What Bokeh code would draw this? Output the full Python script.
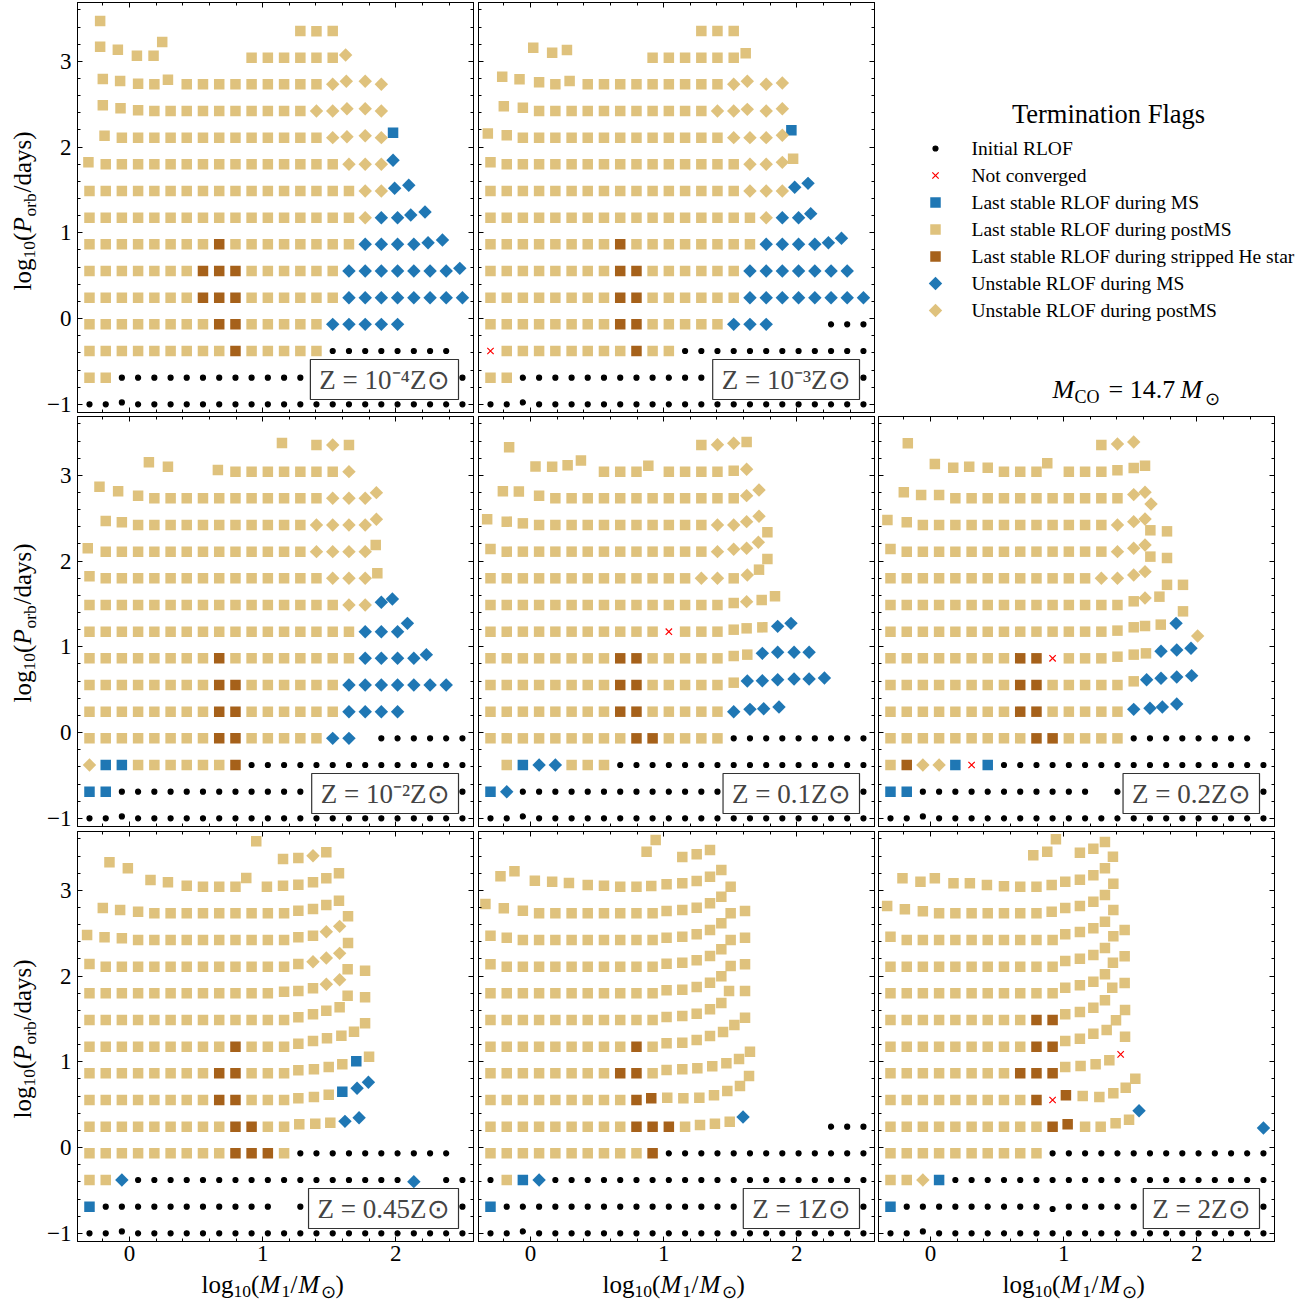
import numpy as np
from bokeh.plotting import figure
from bokeh.layouts import row, column
from bokeh.models import Range1d, LinearAxis, FixedTicker, Label
from bokeh.embed import file_html
from bokeh.resources import INLINE

# ---------------------------------------------------------------------------
# Grid of initial binaries: log10(M1/Msun) columns and log10(P/days) rows
# ---------------------------------------------------------------------------
log_m1_grid = [-0.300, -0.178, -0.057, 0.065, 0.187, 0.309, 0.430, 0.552,
               0.674, 0.796, 0.917, 1.039, 1.161, 1.283, 1.404, 1.526,
               1.648, 1.770, 1.891, 2.013, 2.135, 2.257, 2.378, 2.500]
log_p_grid = [-1.000, -0.689, -0.378, -0.067, 0.244, 0.555, 0.866, 1.177,
              1.488, 1.799, 2.110, 2.421, 2.732, 3.043, 3.354]

# Termination flag per grid node, one run-length string per period row
# (top row first).  Codes: "." initial RLOF, "x" not converged,
# "b" stable RLOF during MS, "s" stable during postMS, "h" stable during
# stripped He star, "D" unstable during MS, "d" unstable during postMS,
# "-" no model.
flags_z1em4 = ["s1 -12 s3 -8", "s5 -5 s6 d1 -7", "-1 s14 d4 -5", "-1 s13 d5 -5",
               "-1 s14 d4 b1 -4", "s16 d3 D1 -4", "s17 d2 D2 -3", "s17 d1 D4 -2",
               "s8 h1 s8 D6 -1", "s7 h3 s6 D8", "s7 h3 s6 D8", "s8 h2 s5 D5 -4",
               "s9 h1 s5 .8 -1", "s2 .22", ".24"]
flags_z1em3 = ["-13 s3 -8", "-2 s3 -5 s7 -7", "-1 s14 d4 -5", "-1 s13 d5 -5",
               "s15 d4 b1 -4", "s16 d3 s1 -4", "s16 d3 D2 -3", "s17 d1 D3 -3",
               "s8 h1 s8 D6 -1", "s8 h2 s6 D7 -1", "s8 h2 s6 D8", "s8 h2 s5 D3 -3 .3",
               "x1 s8 h1 s2 .12", "s2 .22", ".24"]
flags_z1em2 = ["-12 s1 -1 s1 d1 s1 -7", "-3 s2 -3 s8 d1 -7", "-1 s14 d4 -5", "-1 s13 d5 -5",
               "s14 d4 s1 -5", "s15 d3 s1 -5", "s16 d2 D2 -4", "s17 D4 -3",
               "s8 h1 s8 D5 -2", "s8 h2 s6 D7 -1", "s8 h2 s6 D4 -4", "s8 h2 s5 D2 -1 .6",
               "d1 b2 s6 h1 .14", "b2 .22", ".24"]
flags_z01 = ["-1 s1 -11 s1 d2 s1 -7", "-3 s13 d1 -7", "-1 s15 d2 -6", "s14 d4 s1 -5",
             "s14 d4 s1 -5", "s13 d2 s1 d1 s1 -6", "s16 d1 s2 -5", "s11 x1 s6 D2 -4",
             "s8 h2 s7 D4 -3", "s8 h2 s6 D6 -2", "s8 h2 s5 D4 -5", "s9 h2 s4 .9",
             "-1 s1 b1 D2 s3 .16", "b1 D1 .22", ".24"]
flags_z02 = ["-1 s1 -11 s1 d2 -8", "-3 s14 -7", "-1 s14 d3 -6", "s14 d3 s2 -5",
             "s14 d3 s2 -5", "s13 d4 s2 -5", "s16 d1 s2 -5", "s18 D1 d1 -4",
             "s8 h2 x1 s6 D3 -4", "s8 h2 s6 D4 -4", "s8 h2 s5 D4 -5", "s9 h2 s4 .8 -1",
             "s1 h1 d2 b1 x1 b1 .17", "b2 .11 -1 .10", ".24"]
flags_z045 = ["-1 s2 -7 s1 -1 s2 d1 s1 -8", "-4 s13 -7", "-1 s16 -7", "s15 d2 s1 -6",
              "s14 d3 s1 -6", "s15 d2 s2 -5", "s19 -5", "s9 h1 s9 -5",
              "s8 h2 s7 b1 s1 -5", "s8 h2 s6 b1 D2 -5", "s9 h2 s5 D2 -6", "s9 h3 s1 .10 -1",
              "s2 D1 .17 D1 -1 .2", "b1 .11 -1 .11", ".24"]
flags_z1 = ["-10 s5 -9", "-1 s15 -8", "s17 -7", "s18 -6",
            "s18 -6", "s18 -6", "s18 -6", "s9 h1 s8 -6",
            "s8 h2 s8 -6", "s9 h2 s7 -6", "s9 h3 s4 D1 -4 .3", "s10 h1 .13",
            ".1 s1 b1 D1 .20", "b1 .23", ".24"]
flags_z2 = ["-9 s7 -8", "-1 s15 -8", "s16 -8", "s17 -7",
            "s17 -7", "s17 -7", "s9 h2 s4 -9", "s9 h2 s6 -7",
            "s8 h3 s4 x1 s1 -7", "s9 h1 x1 h1 s5 -7", "s10 h2 s4 D1 -6 D1", "s10 .14",
            "s2 d1 b1 .20", "b1 .23", ".24"]

# Final positions that differ from the grid node:
# (row from bottom, column, log10 M1 or None, log10 P or None)
moved_z1em4 = [
    (0, 2, None, -0.977), (5, 23, 2.480, 0.586),
    (6, 21, 2.242, 0.885), (6, 22, 2.350, 0.916),
    (7, 20, 2.112, 1.208), (7, 21, 2.219, 1.243),
    (8, 19, 1.991, 1.519), (8, 20, 2.097, 1.554),
    (9, 0, -0.308, 1.822), (9, 19, 1.979, 1.846),
    (10, 1, -0.187, 2.133), (10, 16, 1.633, 2.121), (10, 17, None, 2.133), (10, 19, 1.979, 2.168),
    (11, 1, -0.200, 2.487), (11, 2, -0.067, 2.452), (11, 3, None, 2.429), (11, 16, 1.633, 2.448),
    (11, 17, None, 2.448),
    (12, 1, -0.200, 2.794), (12, 2, -0.070, 2.771), (12, 3, None, 2.740), (12, 5, 0.289, 2.786),
    (12, 16, 1.628, 2.767), (12, 17, None, 2.767),
    (13, 0, -0.220, 3.171), (13, 1, -0.087, 3.136), (13, 2, 0.056, 3.066), (13, 3, 0.181, 3.066),
    (13, 4, 0.246, 3.225), (13, 16, 1.623, 3.074),
    (14, 0, -0.220, 3.470), (14, 14, None, 3.350),
]
moved_z1em3 = [
    (0, 2, None, -0.977),
    (6, 21, 2.237, 0.885), (6, 22, 2.335, 0.936), (7, 20, 2.104, 1.224),
    (8, 19, 1.984, 1.531), (8, 20, 2.084, 1.577),
    (9, 0, None, 1.822), (9, 18, None, 1.822), (9, 19, 1.972, 1.865),
    (10, 0, -0.320, 2.157), (10, 1, None, 2.137), (10, 18, None, 2.137), (10, 19, 1.959, 2.195),
    (11, 1, -0.200, 2.475), (11, 2, None, 2.460), (11, 16, 1.628, 2.440), (11, 18, None, 2.448),
    (12, 1, -0.212, 2.821), (12, 2, -0.082, 2.790), (12, 3, None, 2.755), (12, 5, 0.294, 2.771),
    (12, 16, 1.628, 2.767), (12, 18, None, 2.747),
    (13, 2, 0.021, 3.159), (13, 3, 0.163, 3.101), (13, 4, 0.274, 3.132), (13, 16, 1.616, 3.093),
]
moved_z1em2 = [
    (0, 2, None, -0.977),
    (6, 21, 2.229, 0.909), (7, 20, 2.087, 1.274),
    (8, 18, None, 1.519), (8, 19, 1.974, 1.558),
    (9, 0, None, 1.822), (9, 18, 1.861, 1.857),
    (10, 0, -0.313, 2.149), (10, 18, 1.849, 2.188),
    (11, 1, None, 2.467), (11, 2, None, 2.452), (11, 18, 1.854, 2.487),
    (12, 1, -0.225, 2.868), (12, 2, -0.085, 2.813), (12, 3, None, 2.763), (12, 18, 1.854, 2.798),
    (13, 3, 0.146, 3.152), (13, 4, 0.289, 3.101), (13, 8, 0.664, 3.062),
    (14, 12, 1.145, 3.377),
]
moved_z01 = [
    (0, 2, None, -0.977),
    (4, 16, None, 0.271), (4, 17, 1.751, 0.279), (4, 18, 1.866, 0.298),
    (5, 15, None, 0.582), (5, 16, 1.628, 0.602), (5, 17, 1.741, 0.605), (5, 18, 1.856, 0.617),
    (5, 19, 1.979, 0.625), (5, 20, 2.092, 0.625), (5, 21, 2.207, 0.637),
    (6, 15, None, 0.893), (6, 16, 1.628, 0.909), (6, 17, 1.741, 0.924), (6, 18, 1.856, 0.936),
    (6, 19, 1.979, 0.936), (6, 20, 2.092, 0.936),
    (7, 15, None, 1.200), (7, 16, 1.623, 1.216), (7, 17, 1.741, 1.227), (7, 18, 1.856, 1.239),
    (7, 19, 1.956, 1.274),
    (8, 15, None, 1.511), (8, 16, 1.623, 1.527), (8, 17, 1.736, 1.546), (8, 18, 1.836, 1.589),
    (9, 16, 1.628, 1.838), (9, 17, 1.716, 1.900),
    (10, 0, None, 2.141), (10, 15, None, 2.137), (10, 16, 1.623, 2.149), (10, 17, 1.711, 2.219),
    (10, 18, 1.779, 2.024),
    (11, 0, -0.325, 2.487), (11, 1, None, 2.460), (11, 2, None, 2.440), (11, 16, 1.623, 2.460),
    (11, 17, 1.716, 2.522), (11, 18, 1.779, 2.335),
    (12, 1, -0.207, 2.813), (12, 2, -0.087, 2.810), (12, 3, None, 2.763), (12, 16, 1.623, 2.763),
    (12, 17, 1.716, 2.829),
    (13, 3, 0.038, 3.104), (13, 4, 0.163, 3.101), (13, 5, 0.279, 3.117), (13, 6, 0.379, 3.174),
    (13, 10, 0.885, 3.113), (13, 15, None, 3.054), (13, 16, 1.623, 3.070),
    (14, 1, -0.160, 3.327), (14, 14, None, 3.357), (14, 15, None, 3.373), (14, 16, 1.623, 3.388),
]
moved_z02 = [
    (0, 2, None, -0.977),
    (4, 15, None, 0.271), (4, 16, None, 0.283), (4, 17, 1.741, 0.298), (4, 18, 1.849, 0.333),
    (5, 15, None, 0.598), (5, 16, 1.623, 0.617), (5, 17, 1.731, 0.633), (5, 18, 1.849, 0.648),
    (5, 19, 1.961, 0.664),
    (6, 14, None, 0.885), (6, 15, None, 0.909), (6, 16, 1.618, 0.924), (6, 17, 1.731, 0.948),
    (6, 18, 1.849, 0.963), (6, 19, 1.956, 0.983),
    (7, 14, None, 1.189), (7, 15, None, 1.228), (7, 16, 1.611, 1.243), (7, 17, 1.729, 1.259),
    (7, 18, 1.844, 1.274), (7, 19, 2.006, 1.126),
    (8, 15, None, 1.531), (8, 16, 1.611, 1.570), (8, 17, 1.719, 1.585), (8, 18, 1.896, 1.414),
    (9, 15, None, 1.838), (9, 16, 1.611, 1.877), (9, 17, 1.776, 1.723), (9, 18, 1.896, 1.723),
    (10, 0, None, 2.141), (10, 15, None, 2.149), (10, 16, 1.611, 2.188), (10, 17, 1.651, 2.052),
    (10, 18, 1.776, 2.036),
    (11, 0, -0.323, 2.479), (11, 1, None, 2.452), (11, 15, None, 2.460), (11, 16, 1.611, 2.491),
    (11, 17, 1.651, 2.359), (11, 18, 1.776, 2.347),
    (12, 1, -0.200, 2.802), (12, 2, -0.070, 2.771), (12, 3, None, 2.771), (12, 15, None, 2.775),
    (12, 16, 1.611, 2.802), (12, 17, 1.656, 2.666),
    (13, 3, 0.033, 3.132), (13, 4, 0.171, 3.089), (13, 5, 0.291, 3.101), (13, 6, None, 3.089),
    (13, 10, 0.877, 3.140), (13, 14, None, 3.058), (13, 15, None, 3.085), (13, 16, 1.611, 3.113),
    (14, 1, -0.170, 3.373), (14, 14, None, 3.365), (14, 15, None, 3.389),
]
moved_z045 = [
    (0, 2, None, -0.977), (2, 20, None, -0.397),
    (4, 13, 1.275, 0.271), (4, 14, 1.395, 0.279), (4, 15, 1.508, 0.291), (4, 16, 1.618, 0.306),
    (4, 17, 1.724, 0.349),
    (5, 13, 1.268, 0.574), (5, 14, 1.385, 0.590), (5, 15, 1.496, 0.617), (5, 16, 1.598, 0.652),
    (5, 17, 1.709, 0.691), (5, 18, 1.794, 0.761),
    (6, 13, 1.268, 0.901), (6, 14, 1.385, 0.913), (6, 15, 1.496, 0.940), (6, 16, 1.598, 0.971),
    (6, 17, 1.703, 1.006), (6, 18, 1.799, 1.060),
    (7, 13, 1.268, 1.212), (7, 14, 1.378, 1.243), (7, 15, 1.483, 1.274), (7, 16, 1.591, 1.305),
    (7, 17, 1.686, 1.352), (7, 18, 1.769, 1.449),
    (8, 13, 1.268, 1.519), (8, 14, 1.378, 1.554), (8, 15, 1.478, 1.597), (8, 16, 1.578, 1.636),
    (8, 17, 1.638, 1.772), (8, 18, 1.769, 1.752),
    (9, 12, None, 1.818), (9, 13, 1.268, 1.826), (9, 14, 1.378, 1.857), (9, 15, 1.478, 1.904),
    (9, 16, 1.578, 1.958), (9, 17, 1.638, 2.079), (9, 18, 1.769, 2.063),
    (10, 0, None, 2.141), (10, 13, 1.268, 2.141), (10, 14, 1.378, 2.168), (10, 15, 1.478, 2.211),
    (10, 16, 1.578, 2.265), (10, 17, 1.641, 2.386),
    (11, 0, -0.318, 2.479), (11, 1, -0.187, 2.452), (11, 2, None, 2.440), (11, 13, 1.268, 2.452),
    (11, 14, 1.378, 2.471), (11, 15, 1.478, 2.518), (11, 16, 1.578, 2.580), (11, 17, 1.641, 2.697),
    (12, 1, -0.200, 2.794), (12, 2, -0.070, 2.771), (12, 3, None, 2.751), (12, 13, 1.268, 2.763),
    (12, 14, 1.378, 2.782), (12, 15, 1.478, 2.829), (12, 16, 1.573, 2.879),
    (13, 4, 0.158, 3.121), (13, 5, 0.289, 3.093), (13, 6, None, 3.054), (13, 10, 0.877, 3.144),
    (13, 11, 1.032, None), (13, 12, 1.153, 3.054), (13, 13, 1.268, 3.066), (13, 14, 1.378, 3.093),
    (13, 15, 1.478, 3.140), (13, 16, 1.573, 3.198),
    (14, 1, -0.150, 3.327), (14, 2, -0.012, 3.257), (14, 10, 0.952, 3.571), (14, 12, 1.153, 3.365),
    (14, 13, 1.268, 3.377), (14, 14, 1.378, 3.404), (14, 15, 1.478, 3.443),
]
moved_z1 = [
    (0, 2, None, -0.977),
    (4, 13, 1.273, 0.263), (4, 14, 1.385, 0.279), (4, 15, 1.496, 0.302), (4, 16, 1.596, 0.357),
    (5, 10, 0.907, 0.574), (5, 11, 1.027, 0.582), (5, 12, 1.148, 0.574), (5, 13, 1.268, 0.582),
    (5, 14, 1.378, 0.609), (5, 15, 1.478, 0.660), (5, 16, 1.573, 0.718), (5, 17, 1.641, 0.835),
    (6, 11, 1.022, 0.905), (6, 12, 1.140, 0.913), (6, 13, 1.253, 0.924), (6, 14, 1.365, 0.948),
    (6, 15, 1.471, 0.983), (6, 16, 1.566, 1.033), (6, 17, 1.648, 1.119),
    (7, 11, 1.022, 1.216), (7, 12, 1.140, 1.224), (7, 13, 1.248, 1.255), (7, 14, 1.348, 1.301),
    (7, 15, 1.446, 1.348), (7, 16, 1.531, 1.430), (7, 17, 1.611, 1.515),
    (8, 11, 1.022, 1.523), (8, 12, 1.140, 1.535), (8, 13, 1.248, 1.562), (8, 14, 1.348, 1.612),
    (8, 15, 1.433, 1.686), (8, 16, 1.491, 1.826), (8, 17, 1.611, 1.826),
    (9, 11, 1.022, 1.834), (9, 12, 1.140, 1.842), (9, 13, 1.248, 1.873), (9, 14, 1.348, 1.923),
    (9, 15, 1.433, 1.997), (9, 16, 1.503, 2.118), (9, 17, 1.611, 2.137),
    (10, 0, None, 2.137), (10, 11, 1.022, 2.145), (10, 12, 1.140, 2.156), (10, 13, 1.248, 2.184),
    (10, 14, 1.348, 2.234), (10, 15, 1.433, 2.312), (10, 16, 1.503, 2.421), (10, 17, 1.611, 2.448),
    (11, 0, None, 2.471), (11, 1, None, 2.448), (11, 11, 1.022, 2.448), (11, 12, 1.140, 2.460),
    (11, 13, 1.248, 2.487), (11, 14, 1.348, 2.537), (11, 15, 1.433, 2.615), (11, 16, 1.503, 2.732),
    (11, 17, 1.611, 2.759),
    (12, 0, -0.338, 2.841), (12, 1, -0.200, 2.790), (12, 2, None, 2.763), (12, 11, 1.022, 2.759),
    (12, 12, 1.140, 2.771), (12, 13, 1.248, 2.798), (12, 14, 1.348, 2.848), (12, 15, 1.433, 2.926),
    (12, 16, 1.503, 3.043),
    (13, 1, -0.225, 3.163), (13, 2, -0.120, 3.222), (13, 3, 0.033, 3.113), (13, 4, 0.163, 3.101),
    (13, 5, 0.289, 3.085), (13, 6, None, 3.062), (13, 7, None, 3.054), (13, 10, 0.907, 3.050),
    (13, 11, 1.022, 3.070), (13, 12, 1.140, 3.082), (13, 13, 1.248, 3.109), (13, 14, 1.348, 3.159),
    (13, 15, 1.433, 3.237),
    (14, 10, 0.872, 3.451), (14, 11, 0.940, 3.587), (14, 12, 1.140, 3.389), (14, 13, 1.248, 3.420),
    (14, 14, 1.348, 3.471),
]
moved_z2 = [
    (0, 2, None, -0.977), (1, 10, None, -0.716),
    (4, 11, 1.030, 0.271), (4, 13, 1.278, None), (4, 14, 1.390, 0.283), (4, 15, 1.491, 0.326),
    (4, 16, 1.566, 0.430), (4, 23, None, 0.228),
    (5, 11, 1.017, 0.609), (5, 12, 1.143, 0.602), (5, 13, 1.268, 0.590), (5, 14, 1.373, 0.633),
    (5, 15, 1.466, 0.699), (5, 16, 1.538, 0.804),
    (6, 11, 1.012, 0.940), (6, 12, 1.127, 0.951), (6, 13, 1.240, 0.971), (6, 14, 1.343, 1.018),
    (6, 15, 1.428, 1.087), (6, 16, 1.461, 1.293),
    (7, 11, 1.012, 1.243), (7, 12, 1.122, 1.270), (7, 13, 1.223, 1.328), (7, 14, 1.323, 1.371),
    (7, 15, 1.393, 1.484), (7, 16, 1.461, 1.604),
    (8, 11, 1.012, 1.554), (8, 12, 1.122, 1.581), (8, 13, 1.223, 1.632), (8, 14, 1.310, 1.717),
    (9, 11, 1.012, 1.865), (9, 12, 1.122, 1.892), (9, 13, 1.223, 1.935), (9, 14, 1.310, 2.020),
    (9, 15, 1.365, 1.865), (9, 16, 1.458, 1.919),
    (10, 11, 1.012, 2.176), (10, 12, 1.122, 2.203), (10, 13, 1.223, 2.246), (10, 14, 1.310, 2.327),
    (10, 15, 1.370, 2.156), (10, 16, 1.458, 2.230),
    (11, 0, None, 2.460), (11, 11, 1.012, 2.487), (11, 12, 1.122, 2.514), (11, 13, 1.223, 2.557),
    (11, 14, 1.310, 2.635), (11, 15, 1.373, 2.464), (11, 16, 1.458, 2.537),
    (12, 0, -0.325, 2.817), (12, 1, -0.192, 2.778), (12, 2, None, 2.755), (12, 10, 0.910, 2.751),
    (12, 11, 1.012, 2.794), (12, 12, 1.122, 2.817), (12, 13, 1.223, 2.868), (12, 14, 1.310, 2.946),
    (12, 15, 1.373, 2.771),
    (13, 1, -0.210, 3.140), (13, 2, -0.075, 3.101), (13, 3, 0.033, 3.140), (13, 4, 0.173, 3.082),
    (13, 5, 0.296, 3.082), (13, 6, 0.424, 3.062), (13, 7, None, 3.047), (13, 10, 0.910, 3.062),
    (13, 11, 1.012, 3.101), (13, 12, 1.122, 3.124), (13, 13, 1.223, 3.175), (13, 14, 1.310, 3.257),
    (13, 15, 1.373, 3.078),
    (14, 9, 0.772, 3.408), (14, 10, 0.877, 3.451), (14, 11, 0.942, 3.595), (14, 12, 1.122, 3.439),
    (14, 13, 1.223, 3.486), (14, 14, 1.310, 3.564), (14, 15, 1.370, 3.393),
]

metallicity_labels = ["Z = 10⁻⁴Z⊙", "Z = 10⁻³Z⊙", "Z = 10⁻²Z⊙", "Z = 0.1Z⊙",
                      "Z = 0.2Z⊙", "Z = 0.45Z⊙", "Z = 1Z⊙", "Z = 2Z⊙"]
flag_labels = ["Initial RLOF", "Not converged", "Last stable RLOF during MS",
               "Last stable RLOF during postMS", "Last stable RLOF during stripped He star",
               "Unstable RLOF during MS", "Unstable RLOF during postMS"]
co_core_mass = "14.7"

# ---------------------------------------------------------------------------
# Styling
# ---------------------------------------------------------------------------
SERIF = "Liberation Serif"
TAN, BROWN, BLUE = "#dfc27d", "#a6611a", "#1f77b4"
FLAG_CODES = [".", "x", "b", "s", "h", "D", "d"]
MARKERS = {
    ".": dict(marker="circle", size=5, fill_color="black", line_color="black", angle=0.0),
    "x": dict(marker="x", size=9, fill_color=None, line_color="red", angle=0.0),
    "b": dict(marker="square", size=10.5, fill_color=BLUE, line_color=None, angle=0.0),
    "s": dict(marker="square", size=10.5, fill_color=TAN, line_color=None, angle=0.0),
    "h": dict(marker="square", size=10.5, fill_color=BROWN, line_color=None, angle=0.0),
    "D": dict(marker="square", size=9.5, fill_color=BLUE, line_color=None, angle=np.pi / 4),
    "d": dict(marker="square", size=9.5, fill_color=TAN, line_color=None, angle=np.pi / 4),
}
DRAW_ORDER = ["s", "h", "b", "d", "D", ".", "x"]

FRAME_W, FRAME_H = 396, 410
X_RANGE = (-0.39, 2.583)
Y_RANGE = (-1.095, 3.686)
MAIN_FS, SUB_FS = "25px", "17.5px"

# tick positions (every 0.2 dex, longer marks on integers)
X_MAJOR = [0, 1, 2]
Y_MAJOR = [-1, 0, 1, 2, 3]
X_MINOR = [round(v, 1) for v in np.arange(-0.2, 2.6, 0.2) if abs(v - round(v)) > 1e-6]
Y_MINOR = [round(v, 1) for v in np.arange(-1.0, 3.7, 0.2) if abs(v - round(v)) > 1e-6]

# border sizes: (left, right) per grid column, (top, bottom) per grid row
COL_LR = [(37, 2), (3, 2), (2, 41)]
ROW_TB = [(2, 4), (0, 4), (1, 31)]
YTITLE_W = 40
XTITLE_H = 34


def expand(runs):
    out = ""
    for tok in runs.split():
        out += tok[0] * int(tok[1:])
    return out


def collect(flags, moved):
    shift = {(r, c): (x, y) for r, c, x, y in moved}
    pts = {k: {"x": [], "y": []} for k in FLAG_CODES}
    for r, runs in enumerate(flags[::-1]):
        for c, code in enumerate(expand(runs)[:len(log_m1_grid)]):
            if code == "-":
                continue
            x, y = log_m1_grid[c], log_p_grid[r]
            if (r, c) in shift:
                sx, sy = shift[(r, c)]
                x = x if sx is None else sx
                y = y if sy is None else sy
            pts[code]["x"].append(x)
            pts[code]["y"].append(y)
    return pts


def style_axis(ax):
    ax.axis_line_color = "black"
    ax.major_tick_line_color = "black"
    ax.minor_tick_line_color = "black"
    ax.major_tick_in, ax.major_tick_out = 5, 0
    ax.minor_tick_in, ax.minor_tick_out = 3, 0
    ax.major_label_standoff = 0
    return ax


def add_axes(p, show_x, show_y):
    for side in ("below", "above", "left", "right"):
        majors, minors = (X_MAJOR, X_MINOR) if side in ("below", "above") else (Y_MAJOR, Y_MINOR)
        shown = (side == "below" and show_x) or (side == "left" and show_y)
        if shown:
            ax = style_axis(LinearAxis(ticker=FixedTicker(ticks=majors, minor_ticks=minors)))
            ax.major_label_text_font = SERIF
            ax.major_label_text_font_size = "23px"
            ax.major_label_text_color = "black"
            ax.major_label_standoff = 4 if side == "below" else 6
            ax.major_label_overrides = {-1: "−1"}
            p.add_layout(ax, side)
        else:
            # unlabeled side: long marks on integers, short ones between
            long_ax = style_axis(LinearAxis(ticker=FixedTicker(ticks=[], minor_ticks=majors)))
            long_ax.minor_tick_in = 5
            short_ax = style_axis(LinearAxis(ticker=FixedTicker(ticks=[], minor_ticks=minors)))
            p.add_layout(long_ax, side)
            p.add_layout(short_ax, side)


def blank_figure(width, height):
    p = figure(frame_width=width, frame_height=height,
               x_range=Range1d(0, width), y_range=Range1d(0, height),
               output_backend="svg", toolbar_location=None,
               x_axis_location=None, y_axis_location=None,
               min_border=0, outline_line_color=None,
               background_fill_color="white", border_fill_color="white")
    p.grid.visible = False
    return p


def txt(p, text, x, y, size, style="normal", align="left", angle=0.0):
    p.add_layout(Label(x=x, y=y, text=text, angle=angle, text_font=SERIF,
                       text_font_size=size, text_font_style=style, text_align=align,
                       text_baseline="middle", text_color="black"))


def make_y_title(height, frame_bottom):
    p = blank_figure(YTITLE_W, height)
    a = np.pi / 2
    base, sub = 21.6, 29
    y0 = frame_bottom
    txt(p, "log", base, y0 + 124, MAIN_FS, angle=a)
    txt(p, "10", sub, y0 + 156, SUB_FS, angle=a)
    txt(p, "(", base, y0 + 173.5, MAIN_FS, angle=a)
    txt(p, "P", base, y0 + 182, MAIN_FS, "italic", angle=a)
    txt(p, "orb", sub, y0 + 198, SUB_FS, angle=a)
    txt(p, "/days)", base, y0 + 222, MAIN_FS, angle=a)
    return p


def make_x_title(width, frame_left):
    p = blank_figure(width, XTITLE_H)
    base, sub = 22.4, 15
    x0 = frame_left
    txt(p, "log", x0 + 124, base, MAIN_FS)
    txt(p, "10", x0 + 156, sub, SUB_FS)
    txt(p, "(", x0 + 173.5, base, MAIN_FS)
    txt(p, "M", x0 + 182, base, MAIN_FS, "italic")
    txt(p, "1", x0 + 204, sub, SUB_FS)
    txt(p, "/", x0 + 213, base, MAIN_FS)
    txt(p, "M", x0 + 221, base, MAIN_FS, "italic")
    txt(p, "⊙", x0 + 243, sub, SUB_FS)
    txt(p, ")", x0 + 258, base, MAIN_FS)
    return p


def make_panel(flags, moved, zlabel, borders, show_x, show_y):
    left, right, top, bottom = borders
    p = figure(frame_width=FRAME_W, frame_height=FRAME_H,
               x_range=Range1d(*X_RANGE), y_range=Range1d(*Y_RANGE),
               output_backend="svg", toolbar_location=None,
               x_axis_location=None, y_axis_location=None,
               min_border_left=left, min_border_right=right,
               min_border_top=top, min_border_bottom=bottom,
               background_fill_color="white", border_fill_color="white")
    p.grid.visible = False
    p.outline_line_color = "black"
    add_axes(p, show_x, show_y)

    pts = collect(flags, moved)
    for code in DRAW_ORDER:
        st = MARKERS[code]
        p.scatter(x=pts[code]["x"], y=pts[code]["y"], marker=st["marker"], size=st["size"],
                  angle=st["angle"], fill_color=st["fill_color"], line_color=st["line_color"],
                  line_width=1.2)

    p.add_layout(Label(x=FRAME_W - 15, y=13, x_units="screen", y_units="screen",
                       text=zlabel, text_font=SERIF, text_font_size="27px",
                       text_align="right", text_baseline="bottom",
                       background_fill_color="white", border_line_color="#333333",
                       border_line_width=1.2, padding=(9, 5)))
    return p


def make_legend_panel(width, height):
    p = blank_figure(width, height)
    row_y = [270, 243, 216, 189, 162, 135, 108]
    for code, name, y in zip(FLAG_CODES, flag_labels, row_y):
        st = MARKERS[code]
        p.scatter(x=[59], y=[y], marker=st["marker"], size=st["size"], angle=st["angle"],
                  fill_color=st["fill_color"], line_color=st["line_color"], line_width=1.2)
        txt(p, name, 95, y, "19.5px")
    txt(p, "Termination Flags", 232, 305, "26.5px", align="center")
    txt(p, "M", 176, 29, "26px", "italic")
    txt(p, "CO", 198, 22, "18px")
    txt(p, "= " + co_core_mass, 232, 29, "26px")
    txt(p, "M", 304, 29, "26px", "italic")
    txt(p, "⊙", 328, 20, "18px")
    return p


panels = [
    (flags_z1em4, moved_z1em4, 0, 0), (flags_z1em3, moved_z1em3, 0, 1),
    (flags_z1em2, moved_z1em2, 1, 0), (flags_z01, moved_z01, 1, 1), (flags_z02, moved_z02, 1, 2),
    (flags_z045, moved_z045, 2, 0), (flags_z1, moved_z1, 2, 1), (flags_z2, moved_z2, 2, 2),
]
grid = [[None] * 3 for _ in range(3)]
for (flags, moved, r, c), zlab in zip(panels, metallicity_labels):
    lr, tb = COL_LR[c], ROW_TB[r]
    grid[r][c] = make_panel(flags, moved, zlab, (lr[0], lr[1], tb[0], tb[1]),
                            show_x=(r == 2), show_y=(c == 0))
grid[0][2] = make_legend_panel(COL_LR[2][0] + FRAME_W + COL_LR[2][1],
                               ROW_TB[0][0] + FRAME_H + ROW_TB[0][1])

rows = []
for r in range(3):
    top, bottom = ROW_TB[r]
    rows.append(row(make_y_title(top + FRAME_H + bottom, bottom), *grid[r]))
title_row = [blank_figure(YTITLE_W, XTITLE_H)]
for c in range(3):
    left, right = COL_LR[c]
    title_row.append(make_x_title(left + FRAME_W + right, left))
rows.append(row(*title_row))

layout = column(*rows)

with open("out.html", "w") as f:
    f.write(file_html(layout, INLINE))
